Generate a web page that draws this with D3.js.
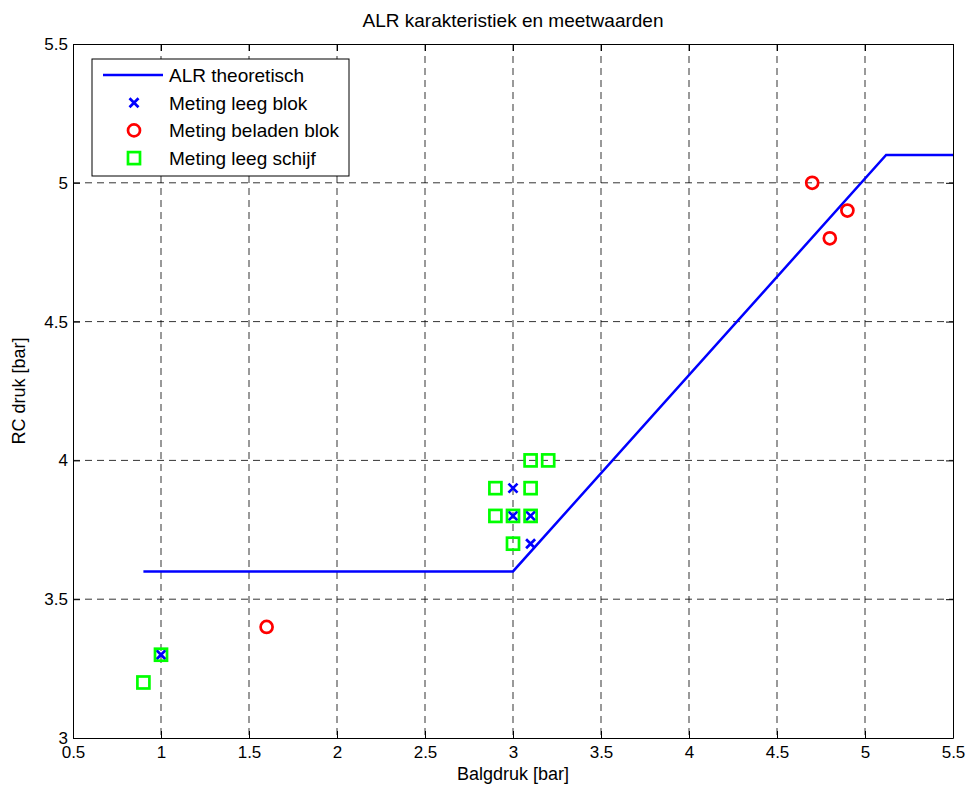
<!DOCTYPE html>
<html>
<head>
<meta charset="utf-8">
<script src="https://cdnjs.cloudflare.com/ajax/libs/d3/7.8.5/d3.min.js"></script>
<style>
  body { margin: 0; background: #fff; }
  svg { font-family: "Liberation Sans", Arial, sans-serif; }
</style>
</head>
<body>
<div class="container"></div>
<script>
var WIDTH = 968;
var HEIGHT = 790;

// ALR theoretical line (Balgdruk, RC druk)
var lineX = [0.9, 3.0, 5.12, 5.5];
var lineY = [3.6, 3.6, 5.1, 5.1];

// Meting leeg blok
var blokX = [1.0, 3.0, 3.0, 3.1, 3.1];
var blokY = [3.3, 3.9, 3.8, 3.8, 3.7];

// Meting beladen blok
var beladenX = [1.6, 4.7, 4.8, 4.9];
var beladenY = [3.4, 5.0, 4.8, 4.9];

// Meting leeg schijf
var schijfX = [0.9, 1.0, 2.9, 2.9, 3.0, 3.0, 3.1, 3.2, 3.1, 3.1];
var schijfY = [3.2, 3.3, 3.9, 3.8, 3.8, 3.7, 4.0, 4.0, 3.9, 3.8];

var xTicks = [0.5, 1, 1.5, 2, 2.5, 3, 3.5, 4, 4.5, 5, 5.5];
var yTicks = [3, 3.5, 4, 4.5, 5, 5.5];

var legendLabels = ['ALR theoretisch', 'Meting leeg blok', 'Meting beladen blok', 'Meting leeg schijf'];

var translate = function (x, y) {
  return 'translate(' + x + ',' + y + ')';
};

var zip = function (xs, ys) {
  return xs.map(function (x, i) { return {x: x, y: ys[i]}; });
};

var loadChart = function () {
  var left = 73, right = 953, top = 44, bottom = 738;
  var fontFam = '"Liberation Sans", Arial, sans-serif';

  var xScale = d3.scaleLinear().domain([0.5, 5.5]).range([left, right]);
  var yScale = d3.scaleLinear().domain([3, 5.5]).range([bottom, top]);

  var svg = d3.select('.container').append('svg')
    .attr('width', WIDTH)
    .attr('height', HEIGHT);

  // grid
  var grid = svg.append('g');
  grid.selectAll('.gx').data(xTicks.slice(1, -1)).enter().append('line')
    .attr('x1', function (d) { return xScale(d); })
    .attr('x2', function (d) { return xScale(d); })
    .attr('y1', top).attr('y2', bottom)
    .attr('stroke', '#000').attr('stroke-width', 1)
    .attr('stroke-dasharray', '7,5').attr('stroke-opacity', 0.8);
  grid.selectAll('.gy').data(yTicks.slice(1, -1)).enter().append('line')
    .attr('y1', function (d) { return yScale(d); })
    .attr('y2', function (d) { return yScale(d); })
    .attr('x1', left).attr('x2', right)
    .attr('stroke', '#000').attr('stroke-width', 1)
    .attr('stroke-dasharray', '7,5').attr('stroke-opacity', 0.8);

  // axes (ticks inward, box on all sides)
  var fmt = function (d) { return String(d); };
  var xAxisB = d3.axisBottom(xScale).tickValues(xTicks).tickSizeInner(-7).tickSizeOuter(0).tickPadding(8).tickFormat(fmt);
  var xAxisT = d3.axisTop(xScale).tickValues(xTicks).tickSizeInner(-7).tickSizeOuter(0).tickFormat('');
  var yAxisL = d3.axisLeft(yScale).tickValues(yTicks).tickSizeInner(-7).tickSizeOuter(0).tickPadding(5).tickFormat(fmt);
  var yAxisR = d3.axisRight(yScale).tickValues(yTicks).tickSizeInner(-7).tickSizeOuter(0).tickFormat('');

  [
    [xAxisB, translate(0, bottom)],
    [xAxisT, translate(0, top)],
    [yAxisL, translate(left, 0)],
    [yAxisR, translate(right, 0)]
  ].forEach(function (a) {
    var g = svg.append('g').attr('transform', a[1]).call(a[0]);
    g.attr('font-size', 17).attr('font-family', fontFam);
    g.select('.domain').attr('stroke', '#000');
    g.selectAll('.tick line').attr('stroke', '#000');
    g.selectAll('text').attr('fill', '#000');
  });

  // theoretical line
  var line = d3.line()
    .x(function (d) { return xScale(d.x); })
    .y(function (d) { return yScale(d.y); });

  svg.append('path')
    .datum(zip(lineX, lineY))
    .attr('d', line)
    .attr('fill', 'none')
    .attr('stroke', '#0000ff')
    .attr('stroke-width', 2.5);

  // markers
  var drawSquare = function (g) {
    g.append('rect').attr('x', -6).attr('y', -6).attr('width', 12).attr('height', 12)
      .attr('fill', 'none').attr('stroke', '#00ff00').attr('stroke-width', 2.7);
  };
  var drawCross = function (g) {
    g.append('path').attr('d', 'M-4.5,-4.5L4.5,4.5M-4.5,4.5L4.5,-4.5')
      .attr('stroke', '#0000ff').attr('stroke-width', 2.7);
  };
  var drawCircle = function (g) {
    g.append('circle').attr('r', 6)
      .attr('fill', 'none').attr('stroke', '#ff0000').attr('stroke-width', 2.7);
  };

  var plotSeries = function (xs, ys, draw) {
    svg.append('g').selectAll('g').data(zip(xs, ys)).enter().append('g')
      .attr('transform', function (d) { return translate(xScale(d.x), yScale(d.y)); })
      .each(function () { draw(d3.select(this)); });
  };

  plotSeries(blokX, blokY, drawCross);
  plotSeries(beladenX, beladenY, drawCircle);
  plotSeries(schijfX, schijfY, drawSquare);

  // legend
  var legend = svg.append('g').attr('transform', translate(92, 59));
  legend.append('rect').attr('width', 257).attr('height', 117)
    .attr('fill', '#fff').attr('stroke', '#000').attr('stroke-width', 1);
  var drawers = [null, drawCross, drawCircle, drawSquare];
  legendLabels.forEach(function (lab, i) {
    var yy = 16 + i * 27.7;
    if (i === 0) {
      legend.append('line').attr('x1', 11).attr('x2', 71).attr('y1', yy).attr('y2', yy)
        .attr('stroke', '#0000ff').attr('stroke-width', 2.5);
    } else {
      drawers[i](legend.append('g').attr('transform', translate(42, yy)));
    }
    legend.append('text').attr('x', 77).attr('y', yy + 7)
      .attr('font-size', 19).text(lab);
  });

  // titles
  svg.append('text').attr('x', (left + right) / 2).attr('y', 27)
    .attr('text-anchor', 'middle').attr('font-size', 19)
    .text('ALR karakteristiek en meetwaarden');
  svg.append('text').attr('x', (left + right) / 2).attr('y', 780)
    .attr('text-anchor', 'middle').attr('font-size', 18)
    .text('Balgdruk [bar]');
  svg.append('text').attr('transform', translate(25, (top + bottom) / 2) + ' rotate(-90)')
    .attr('text-anchor', 'middle').attr('font-size', 18)
    .text('RC druk [bar]');
};

window.onload = loadChart;
</script>
</body>
</html>
